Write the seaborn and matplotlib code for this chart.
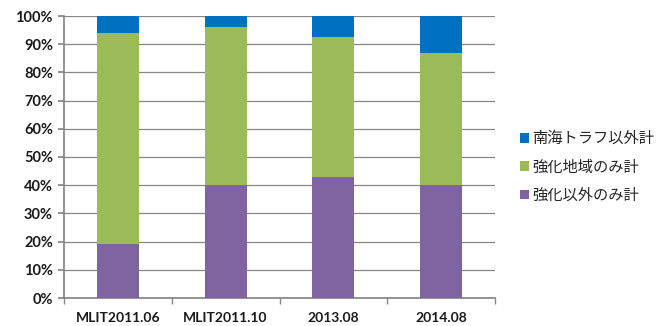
import matplotlib
matplotlib.use("Agg")
import matplotlib.pyplot as plt
import seaborn as sns
import pandas as pd
import numpy as np
from matplotlib.patches import Patch
from matplotlib.ticker import FixedLocator, PercentFormatter

categories = ["MLIT2011.06", "MLIT2011.10", "2013.08", "2014.08"]
purple_vals = [19.0, 40.0, 43.0, 40.0]   # 強化以外のみ計
green_vals = [75.0, 56.0, 49.5, 47.0]    # 強化地域のみ計
blue_vals = [6.0, 4.0, 7.5, 13.0]        # 南海トラフ以外計
series_names = ["南海トラフ以外計", "強化地域のみ計", "強化以外のみ計"]
colors = {"blue": "#0070C0", "green": "#9BBB59", "purple": "#8064A2"}

sns.set_theme(style="white")
plt.rcParams["font.family"] = ["Lato", "DejaVu Sans"]

df = pd.DataFrame({
    "cat": categories,
    "purple": purple_vals,
    "green": np.array(purple_vals) + np.array(green_vals),
    "blue": np.array(purple_vals) + np.array(green_vals) + np.array(blue_vals),
})

fig = plt.figure(figsize=(6.61, 3.26), dpi=100)
ax = fig.add_axes([64/661, 28/326, (495-64)/661, (298-16)/326])

for key in ["blue", "green", "purple"]:
    sns.barplot(data=df, x="cat", y=key, order=categories, color=colors[key],
                width=0.39, saturation=1, ax=ax, zorder=3, linewidth=0)

ax.set_xlim(-0.5, 3.5)
ax.set_ylim(0, 100)
ax.set_yticks(np.arange(0, 101, 10))
ax.yaxis.set_major_formatter(PercentFormatter(decimals=0))
ax.yaxis.grid(True, color="#868686", linewidth=0.9, zorder=0)
ax.set_axisbelow(True)
ax.set_xlabel("")
ax.set_ylabel("")
for s in ["top", "right"]:
    ax.spines[s].set_visible(False)
ax.spines["left"].set_color("#868686")
ax.spines["bottom"].set_color("#868686")

ax.tick_params(axis="y", which="major", left=True, length=4, color="#868686",
               labelsize=10.5, pad=4)
ax.tick_params(axis="x", which="major", bottom=False, labelsize=10, pad=4)
ax.xaxis.set_minor_locator(FixedLocator([-0.5, 0.5, 1.5, 2.5, 3.5]))
ax.tick_params(axis="x", which="minor", bottom=True, length=4, color="#868686")
for lab in ax.get_xticklabels() + ax.get_yticklabels():
    lab.set_fontweight("bold")
    lab.set_color("#1a1a1a")

handles = [Patch(facecolor=colors[k], edgecolor="none") for k in ["blue", "green", "purple"]]
leg = fig.legend(handles, series_names, loc="center left", bbox_to_anchor=(520/661, 1 - 167/326),
                 frameon=False, prop={"family": ["Noto Sans CJK JP", "DejaVu Sans"], "size": 11},
                 handlelength=0.6, handleheight=0.6, handletextpad=0.2, labelspacing=0.75,
                 borderaxespad=0, borderpad=0)

fig.savefig("out.png", dpi=100)
